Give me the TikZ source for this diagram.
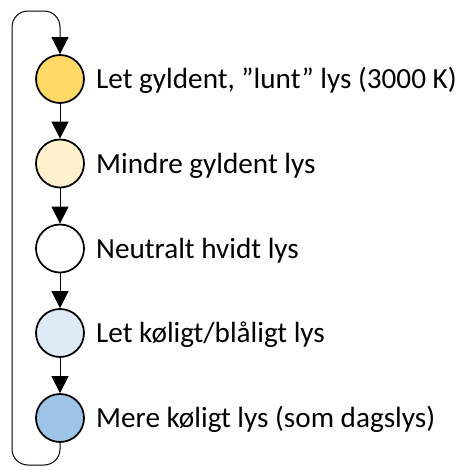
\documentclass[tikz,border=0pt]{standalone}
\usepackage{fontspec}
\setmainfont{Carlito}
\usetikzlibrary{arrows.meta}
\definecolor{c1}{HTML}{FFD966}
\definecolor{c2}{HTML}{FFF2CC}
\definecolor{c3}{HTML}{FFFFFF}
\definecolor{c4}{HTML}{DEEBF7}
\definecolor{c5}{HTML}{9DC3E6}
\begin{document}
\begin{tikzpicture}[x=1pt,y=-1pt,
  dot/.style={circle,draw=black,line width=1.75pt,minimum size=48pt,inner sep=0pt},
  lbl/.style={anchor=base west,inner sep=0pt,font=\fontsize{29.2pt}{34pt}\selectfont},
  conn/.style={line width=1pt,-{Triangle[width=17pt,length=17pt]}}]
\useasboundingbox (0,0) rectangle (461,467);
\node[dot,fill=c1] (n1) at (60,79) {};
\node[dot,fill=c2] (n2) at (60,163.5) {};
\node[dot,fill=c3] (n3) at (60,248.5) {};
\node[dot,fill=c4] (n4) at (60,333) {};
\node[dot,fill=c5] (n5) at (60,418) {};
\node[lbl] (t1) at (96,88.5) {Let gyldent, ”lunt” lys (3000 K)};
\node[lbl] (t2) at (96,173) {Mindre gyldent lys};
\node[lbl] (t3) at (96,258) {Neutralt hvidt lys};
\node[lbl] (t4) at (96,342.5) {Let køligt/blåligt lys};
\node[lbl] (t5) at (96,427.5) {Mere køligt lys (som dagslys)};
\draw[conn] (n1) -- (n2);
\draw[conn] (n2) -- (n3);
\draw[conn] (n3) -- (n4);
\draw[conn] (n4) -- (n5);
\coordinate (bl) at (12,465);
\coordinate (tl) at (12,11);
\draw[conn,rounded corners=16pt] (n5.south) |- (bl) -- (tl) -| (n1.north);
\end{tikzpicture}
\end{document}
